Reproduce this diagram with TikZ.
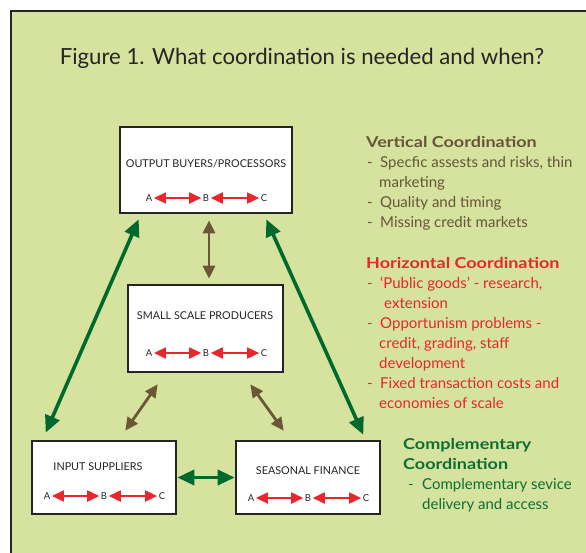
\documentclass[tikz,border=0pt]{standalone}
\usepackage{fontspec}
\setmainfont{Lato}
\usetikzlibrary{arrows.meta,calc}

\definecolor{bggreen}{HTML}{D5E39F}
\definecolor{frameline}{HTML}{262425}
\definecolor{arrowgreen}{HTML}{006A2E}
\definecolor{arrowbrown}{HTML}{6B5736}
\definecolor{abcred}{HTML}{E8262B}
\definecolor{textbrown}{HTML}{67553A}
\definecolor{textred}{HTML}{E8262B}
\definecolor{textgreen}{HTML}{0D6E33}

\newcommand{\heading}[1]{\scalebox{1.2}[1]{\textbf{#1}}}

\tikzset{
  box/.style={draw=frameline, line width=2.6pt, fill=white},
  boxlabel/.style={text=frameline, font=\fontsize{10.8}{13}\selectfont},
  abcletter/.style={text=frameline, inner sep=1.5pt, font=\fontsize{9.5}{10}\selectfont},
  abcarrow/.style={abcred, line width=1.8pt, {Triangle[length=12pt,width=11pt]}-{Triangle[length=12pt,width=11pt]}},
  greenarrow/.style={arrowgreen, line width=3.6pt, {Triangle[length=17pt,width=15pt]}-{Triangle[length=17pt,width=15pt]}},
  brownarrow/.style={arrowbrown, line width=2.8pt, {Triangle[length=13pt,width=12pt]}-{Triangle[length=13pt,width=12pt]}},
  sidetext/.style={anchor=north west, inner sep=0pt, align=left, font=\fontsize{15}{20}\selectfont}
}

\begin{document}
\begin{tikzpicture}[x=1pt,y=-1pt]
\useasboundingbox (0,0) rectangle (586,552);
\clip (0,0) rectangle (586,552);
\fill[white] (0,0) rectangle (586,552);
\draw[frameline, line width=2.4pt, fill=bggreen] (11,11) rectangle (640,620);

\node[text=frameline, font=\fontsize{22.2}{26}\selectfont] (title) at (302,58) {Figure 1. What coordination is needed and when?};

% boxes
\node[box, minimum width=172pt, minimum height=86pt] (out) at (206,170) {};
\node[box, minimum width=155pt, minimum height=87pt] (ssp) at (205.5,328.5) {};
\node[box, minimum width=144pt, minimum height=73pt] (inp) at (104,477.5) {};
\node[box, minimum width=144pt, minimum height=73pt] (fin) at (308,477.5) {};

\node[boxlabel] (outlabel) at (206,164) {OUTPUT BUYERS/PROCESSORS};
\node[boxlabel] (ssplabel) at (205,316) {SMALL SCALE PRODUCERS};
\node[boxlabel] (inplabel) at (98,467) {INPUT SUPPLIERS};
\node[boxlabel] (finlabel) at (308,471) {SEASONAL FINANCE};

\foreach \n/\x/\y in {out/149/198, ssp/149/353, inp/47/496, fin/251/498}{
  \node[abcletter] (\n A) at (\x,\y) {A};
  \node[abcletter] (\n B) at (\x+57,\y) {B};
  \node[abcletter] (\n C) at (\x+115,\y) {C};
  \draw[abcarrow] (\n A) -- (\n B);
  \draw[abcarrow] (\n B) -- (\n C);
}

% connectors
\draw[brownarrow] ($(out.south)+(3,6)$) -- ($(ssp.north)+(3.5,-5)$);
\draw[brownarrow] ($(ssp.south west)+(31,11)$) -- ($(inp.north east)+(-52,-9)$);
\draw[brownarrow] ($(ssp.south east)+(-34,11)$) -- ($(fin.north west)+(49,-9)$);
\draw[greenarrow] ($(out.south west)+(20,5)$) -- ($(inp.north west)+(15,-7)$);
\draw[greenarrow] ($(out.south east)+(-27,5)$) -- ($(fin.north east)+(-18,-5)$);
\draw[greenarrow] (inp.east) -- (fin.west);

% side text
\node[sidetext, text=textbrown] (vertical) at (366,136) {\heading{Vertical Coordination}\\
\makebox[14pt][l]{\hspace{1pt}-}Specfic assests and risks, thin\\
\hspace*{13pt}marketing\\
\makebox[14pt][l]{\hspace{1pt}-}Quality and timing\\
\makebox[14pt][l]{\hspace{1pt}-}Missing credit markets};

\node[sidetext, text=textred] (horizontal) at (366,257) {\heading{Horizontal Coordination}\\
\makebox[14pt][l]{\hspace{1pt}-}`Public goods' - research,\\
\hspace*{18pt}extension\\
\makebox[14pt][l]{\hspace{1pt}-}Opportunism problems -\\
\hspace*{13pt}credit, grading, staff\\
\hspace*{13pt}development\\
\makebox[14pt][l]{\hspace{1pt}-}Fixed transaction costs and\\
\hspace*{13pt}economies of scale};

\node[sidetext, text=textgreen] (complementary) at (403,438) {\heading{Complementary}\\
\heading{Coordination}\\
\hspace*{5pt}\makebox[14pt][l]{-}Complementary sevice\\
\hspace*{19pt}delivery and access};
\end{tikzpicture}
\end{document}
